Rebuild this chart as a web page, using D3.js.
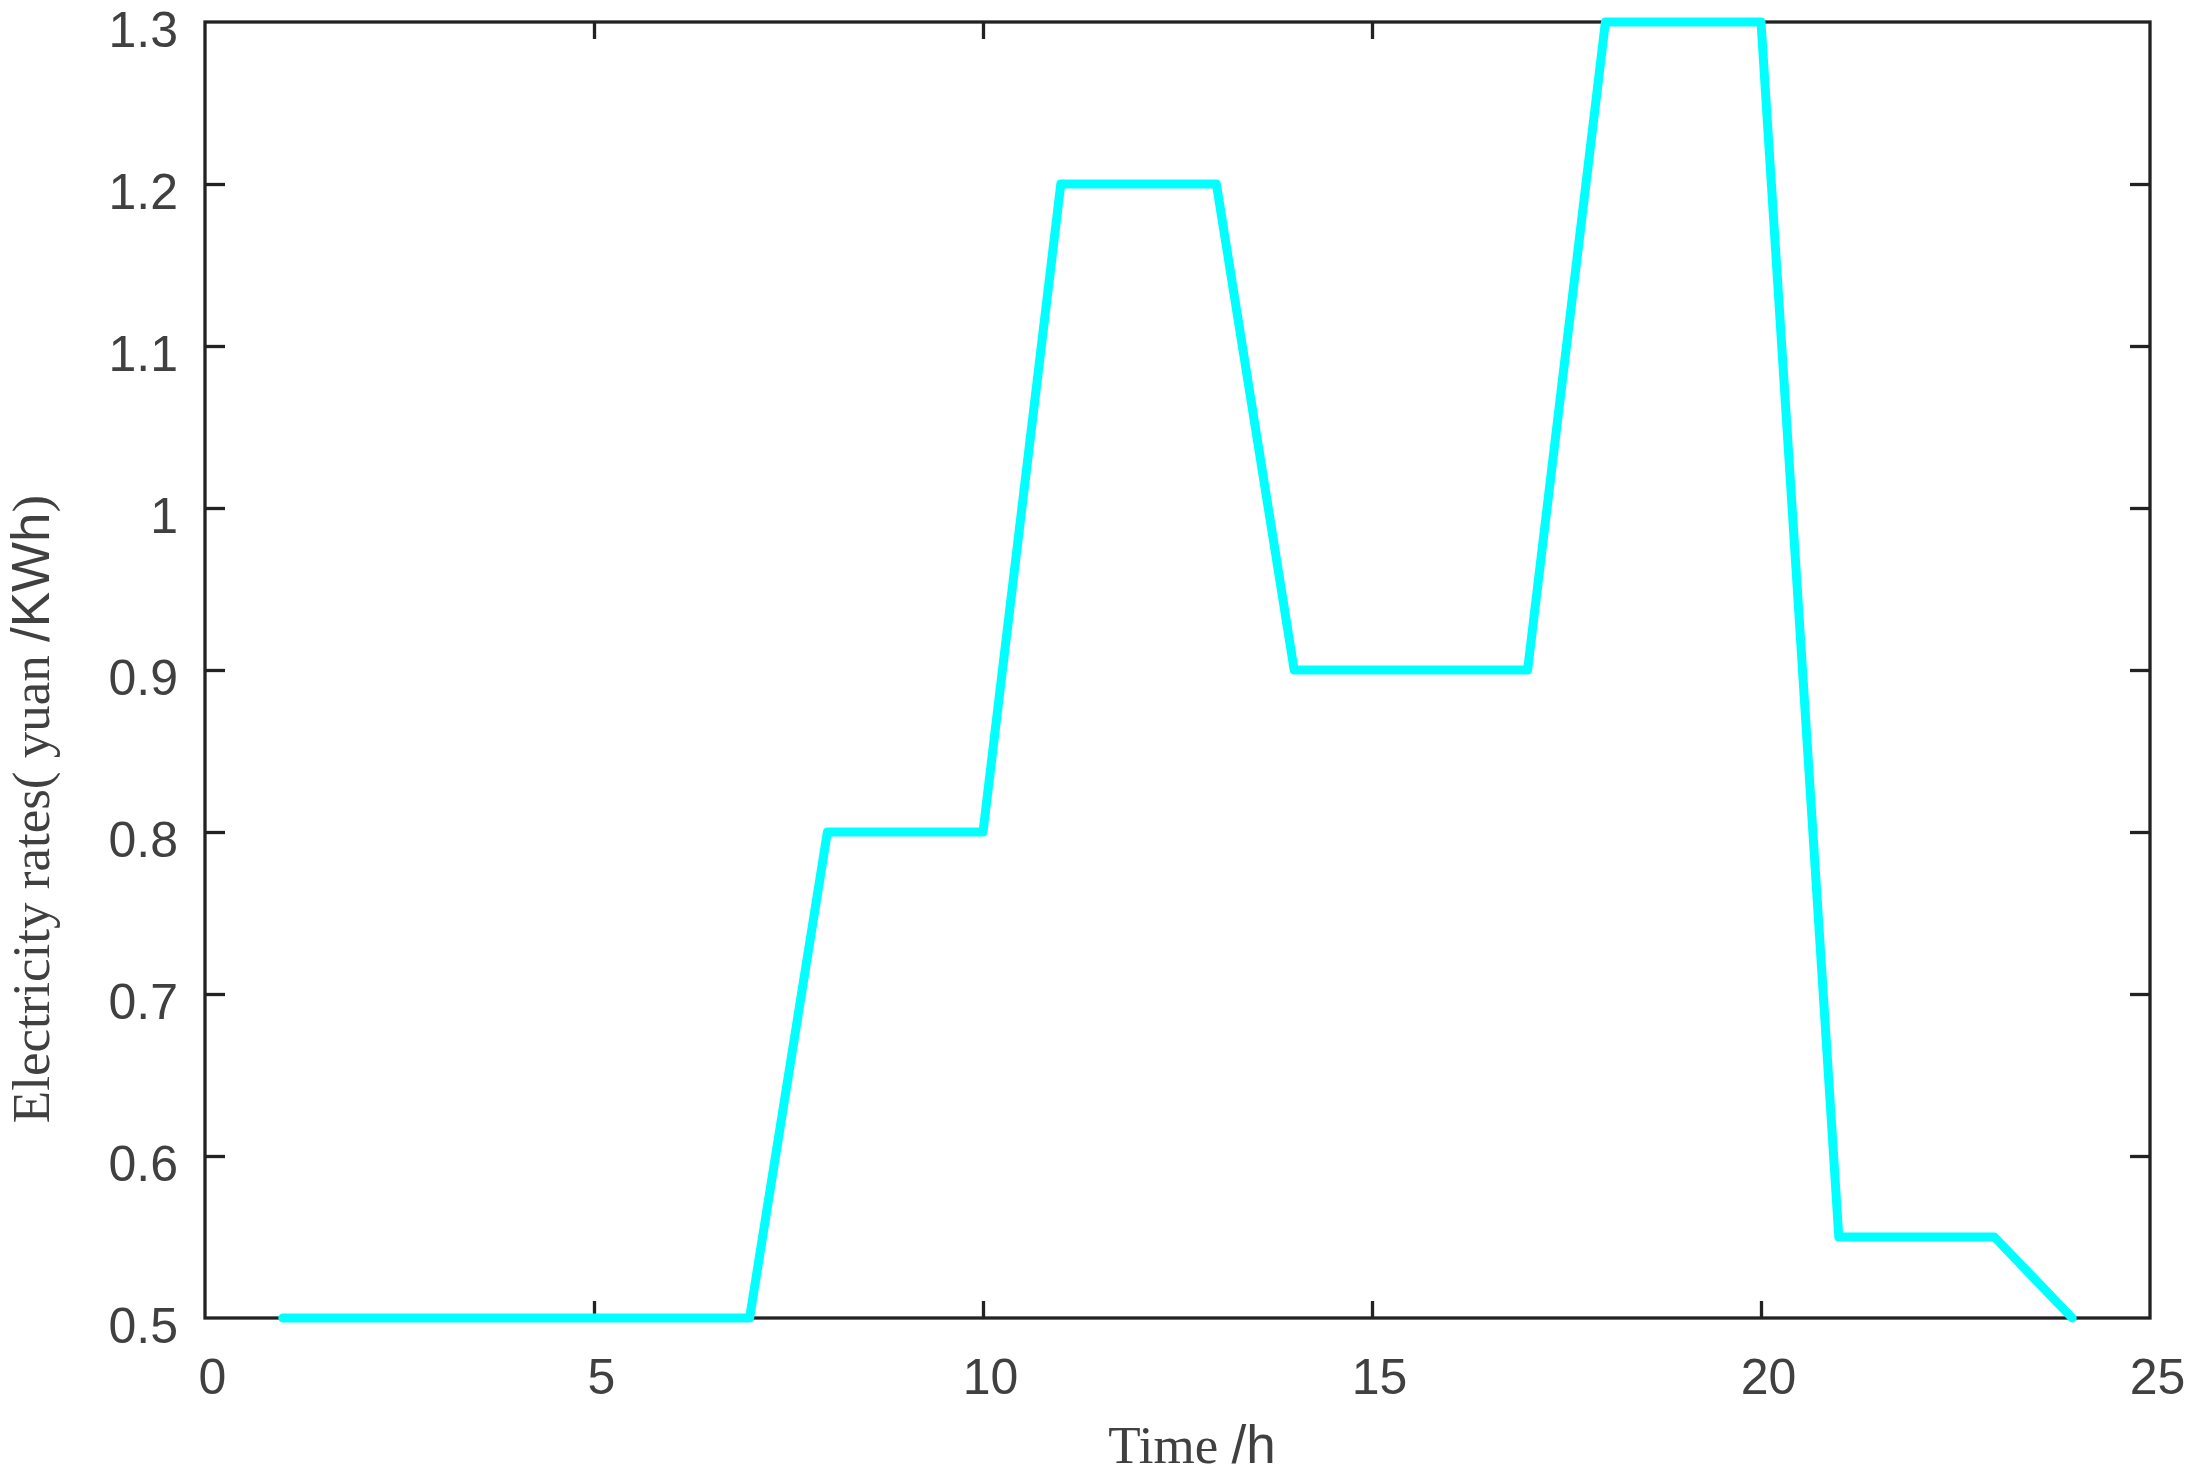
<!DOCTYPE html>
<html><head><meta charset="utf-8">
<script src="https://cdn.jsdelivr.net/npm/d3@7"></script>
<style>body{margin:0;background:#fff}</style></head>
<body>
<svg id="c" width="2202" height="1475"></svg>
<script>
const hours = [1,2,3,4,5,6,7,8,9,10,11,12,13,14,15,16,17,18,19,20,21,22,23,24];
const rates = [0.5,0.5,0.5,0.5,0.5,0.5,0.5,0.8,0.8,0.8,1.2,1.2,1.2,0.9,0.9,0.9,0.9,1.3,1.3,1.3,0.55,0.55,0.55,0.5];
const xTicks = [0,5,10,15,20,25];
const xTickLabels = ["0","5","10","15","20","25"];
const yTicks = [0.5,0.6,0.7,0.8,0.9,1.0,1.1,1.2,1.3];
const yTickLabels = ["0.5","0.6","0.7","0.8","0.9","1","1.1","1.2","1.3"];

const L = 205, R = 2150, T = 22, B = 1318;
const svg = d3.select("#c");
const x = d3.scaleLinear().domain([0,25]).range([L,R]);
const y = d3.scaleLinear().domain([0.5,1.3]).range([B,T]);
const axisColor = "#222";
const textColor = "#404040";

// frame
svg.append("rect").attr("x",L).attr("y",T).attr("width",R-L).attr("height",B-T)
  .attr("fill","none").attr("stroke",axisColor).attr("stroke-width",3.3);

function styleAxis(g){
  g.select(".domain").remove();
  g.selectAll(".tick line").attr("stroke",axisColor).attr("stroke-width",3.3);
  g.selectAll("text").attr("fill",textColor)
    .style("font-family","'Liberation Sans', Arial, sans-serif").style("font-size","50px");
}

// bottom
const gb = svg.append("g").attr("transform",`translate(0,${B})`)
  .call(d3.axisBottom(x).tickValues(xTicks).tickFormat((d,i)=>xTickLabels[i]).tickSize(-17).tickSizeOuter(0));
styleAxis(gb);
gb.selectAll("text").attr("x",7).attr("y",76).attr("dy","0");
gb.selectAll(".tick").filter(d=>d===0||d===25).select("line").remove();

// top
const gt = svg.append("g").attr("transform",`translate(0,${T})`)
  .call(d3.axisTop(x).tickValues(xTicks).tickFormat("").tickSize(-17).tickSizeOuter(0));
styleAxis(gt);
gt.selectAll(".tick").filter(d=>d===0||d===25).select("line").remove();

// left
const gl = svg.append("g").attr("transform",`translate(${L},0)`)
  .call(d3.axisLeft(y).tickValues(yTicks).tickFormat((d,i)=>yTickLabels[i]).tickSize(-20).tickSizeOuter(0));
styleAxis(gl);
gl.selectAll("text").attr("x",-27).attr("y",24).attr("dy","0");
gl.selectAll(".tick").filter(d=>d===0.5||d===1.3).select("line").remove();

// right
const gr = svg.append("g").attr("transform",`translate(${R},0)`)
  .call(d3.axisRight(y).tickValues(yTicks).tickFormat("").tickSize(-20).tickSizeOuter(0));
styleAxis(gr);
gr.selectAll(".tick").filter(d=>d===0.5||d===1.3).select("line").remove();

// line
const line = d3.line().x((d,i)=>x(hours[i])).y(d=>y(d));
svg.append("path").datum(rates).attr("d",line)
  .attr("fill","none").attr("stroke","#00ffff").attr("stroke-width",9)
  .attr("stroke-linejoin","round").attr("stroke-linecap","round");

// x label
const xl = svg.append("text").attr("x",1192).attr("y",1463).attr("text-anchor","middle")
  .attr("fill",textColor).style("font-size","53px");
xl.append("tspan").style("font-family","'Liberation Serif','Times New Roman',serif").text("Time ");
xl.append("tspan").style("font-family","'Liberation Sans',Arial,sans-serif").text("/h");

// y label
const yl = svg.append("text").attr("transform","translate(49,809) rotate(-90)").attr("text-anchor","middle")
  .attr("fill",textColor).style("font-size","53px");
yl.append("tspan").style("font-family","'Liberation Serif','Times New Roman',serif").text("Electricity rates( yuan ");
yl.append("tspan").style("font-family","'Liberation Sans',Arial,sans-serif").text("/KWh");
yl.append("tspan").style("font-family","'Liberation Serif','Times New Roman',serif").text(")");
</script>
</body></html>
